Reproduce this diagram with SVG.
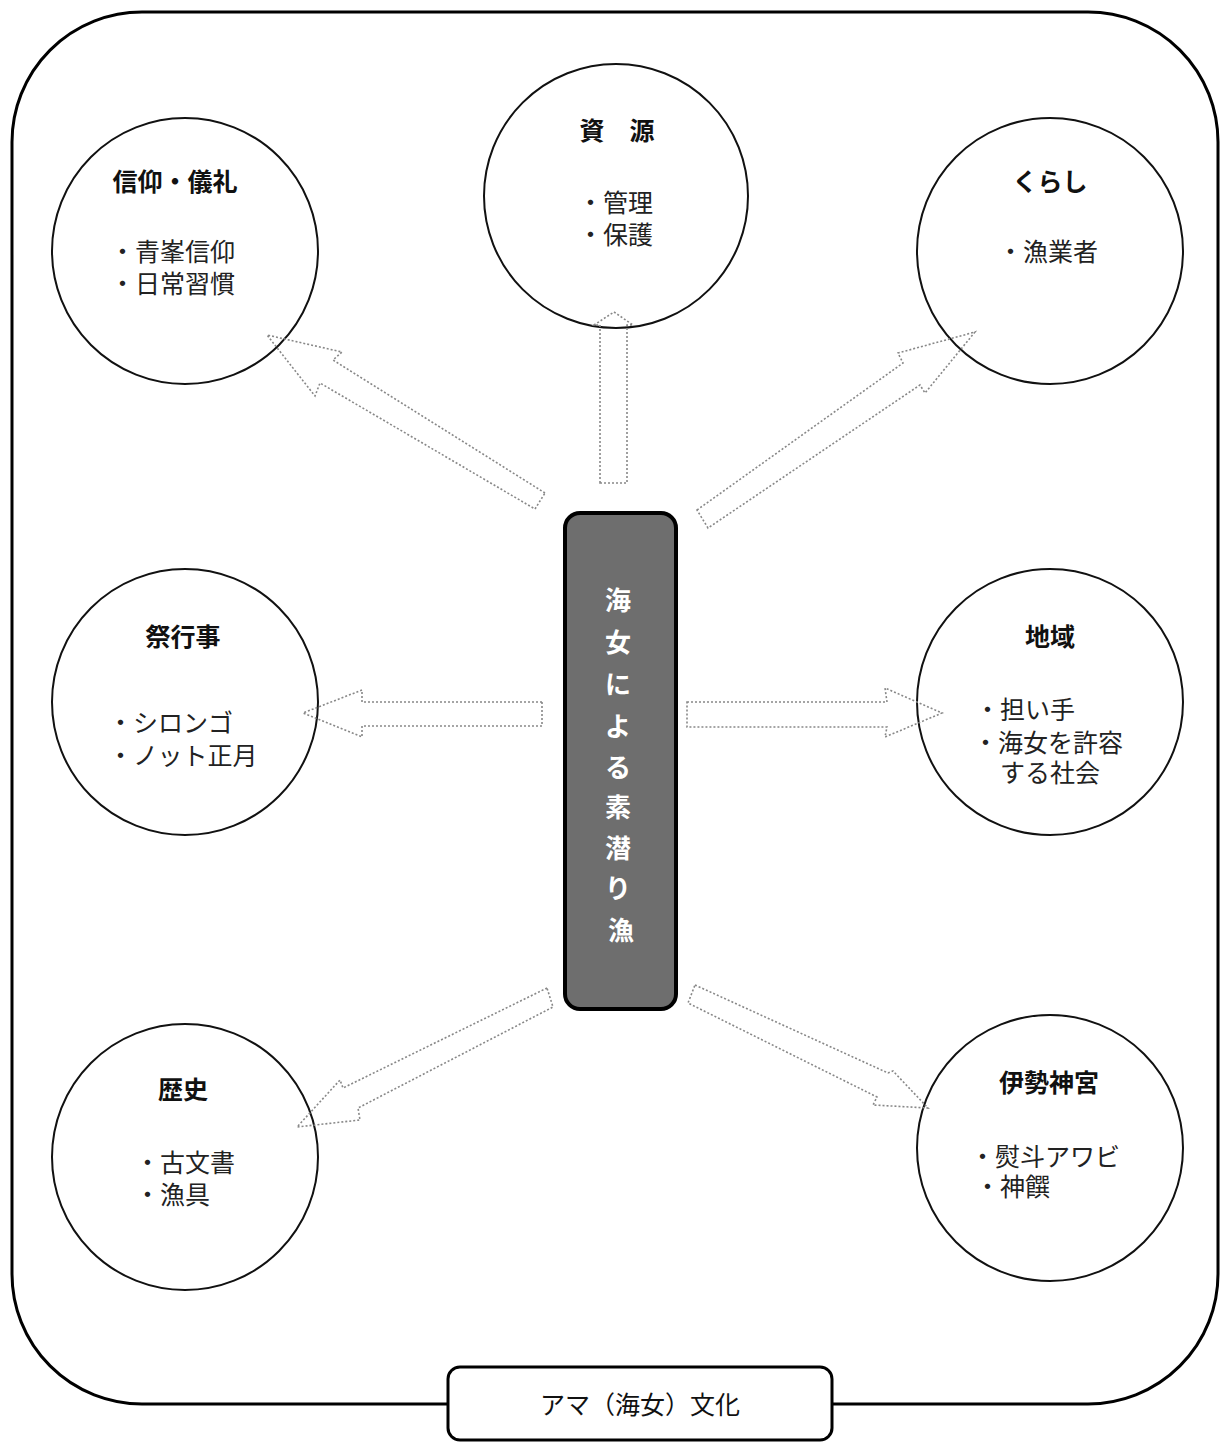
<svg xmlns="http://www.w3.org/2000/svg" width="1229" height="1443" viewBox="0 0 1229 1443">
<style>
.frame{fill:#fff;stroke:#000;stroke-width:3}
.node{fill:#fff;stroke:#111;stroke-width:2}
.title{font-family:"Noto Sans CJK JP","Noto Sans",sans-serif;font-weight:bold;font-size:25px;fill:#111}
.item{font-family:"Noto Sans CJK JP","Noto Sans",sans-serif;font-size:25px;fill:#222}
.center{fill:#6e6e6e;stroke:#000;stroke-width:4}
.ctext{font-family:"Noto Sans CJK JP","Noto Sans",sans-serif;font-weight:bold;font-size:26px;fill:#fff}
.arrow{fill:none;stroke:#888;stroke-width:1.6;stroke-dasharray:2 2}
.label{font-family:"Noto Sans CJK JP","Noto Sans",sans-serif;font-size:25px;fill:#111}
</style>
<rect width="1229" height="1443" fill="#fff"/>
<g id="frame">
<rect class="frame" x="12" y="12" width="1206" height="1392" rx="130" ry="130"/>
</g>
<g id="node-shinko">
<circle class="node" cx="185" cy="251" r="133"/>
<text class="title" x="175" y="191" text-anchor="middle">信仰・儀礼</text>
<text class="item" x="110" y="261">・青峯信仰</text>
<text class="item" x="110" y="293">・日常習慣</text>
</g>
<g id="node-shigen">
<circle class="node" cx="616" cy="196" r="132"/>
<text class="title" x="617" y="140" text-anchor="middle">資　源</text>
<text class="item" x="578" y="212">・管理</text>
<text class="item" x="578" y="244">・保護</text>
</g>
<g id="node-kurashi">
<circle class="node" cx="1050" cy="251" r="133"/>
<text class="title" x="1050" y="191" text-anchor="middle">くらし</text>
<text class="item" x="998" y="261">・漁業者</text>
</g>
<g id="node-matsuri">
<circle class="node" cx="185" cy="702" r="133"/>
<text class="title" x="183" y="646" text-anchor="middle">祭行事</text>
<text class="item" x="108" y="732">・シロンゴ</text>
<text class="item" x="108" y="765">・ノット正月</text>
</g>
<g id="node-chiiki">
<circle class="node" cx="1050" cy="702" r="133"/>
<text class="title" x="1050" y="646" text-anchor="middle">地域</text>
<text class="item" x="975" y="719">・担い手</text>
<text class="item" x="973" y="752">・海女を許容</text>
<text class="item" x="1000" y="782">する社会</text>
</g>
<g id="node-rekishi">
<circle class="node" cx="185" cy="1157" r="133"/>
<text class="title" x="183" y="1099" text-anchor="middle">歴史</text>
<text class="item" x="135" y="1172">・古文書</text>
<text class="item" x="135" y="1204">・漁具</text>
</g>
<g id="node-ise">
<circle class="node" cx="1050" cy="1148" r="133"/>
<text class="title" x="1049" y="1092" text-anchor="middle">伊勢神宮</text>
<text class="item" x="970" y="1166">・熨斗アワビ</text>
<text class="item" x="975" y="1196">・神饌</text>
</g>
<g id="node-center">
<rect class="center" x="565" y="513" width="111" height="496" rx="15" ry="15"/>
<text class="ctext" text-anchor="middle">
<tspan x="621" y="610">海</tspan>
<tspan x="621" y="652">女</tspan>
<tspan x="621" y="694">に</tspan>
<tspan x="621" y="736">よ</tspan>
<tspan x="621" y="777">る</tspan>
<tspan x="621" y="817">素</tspan>
<tspan x="621" y="858">潜</tspan>
<tspan x="621" y="898">り</tspan>
<tspan x="621" y="940">漁</tspan>
</text>
</g>
<g id="connectors">
<polygon class="arrow" points="545,493 333,360 342,352 267,335 315,396 320,383 535,509"/>
<polygon class="arrow" points="600,483 627,483 627,325 633,325 614,312 594,325 600,325"/>
<polygon class="arrow" points="697,510 903,363 898,353 975,332 925,393 920,385 708,528"/>
<polygon class="arrow" points="542,702 362,702 362,690 303,713 362,737 362,726 542,726"/>
<polygon class="arrow" points="687,702 887,702 885,688 942,713 885,737 887,727 687,727"/>
<polygon class="arrow" points="547,988 343,1088 340,1080 297,1127 360,1120 358,1108 553,1007"/>
<polygon class="arrow" points="695,985 888,1073 893,1071 928,1108 873,1105 877,1097 688,1003"/>
</g>
<g id="node-label">
<rect class="frame" x="448" y="1367" width="384" height="73" rx="12" ry="12"/>
<text class="label" x="640" y="1414" text-anchor="middle">アマ（海女）文化</text>
</g>
</svg>
